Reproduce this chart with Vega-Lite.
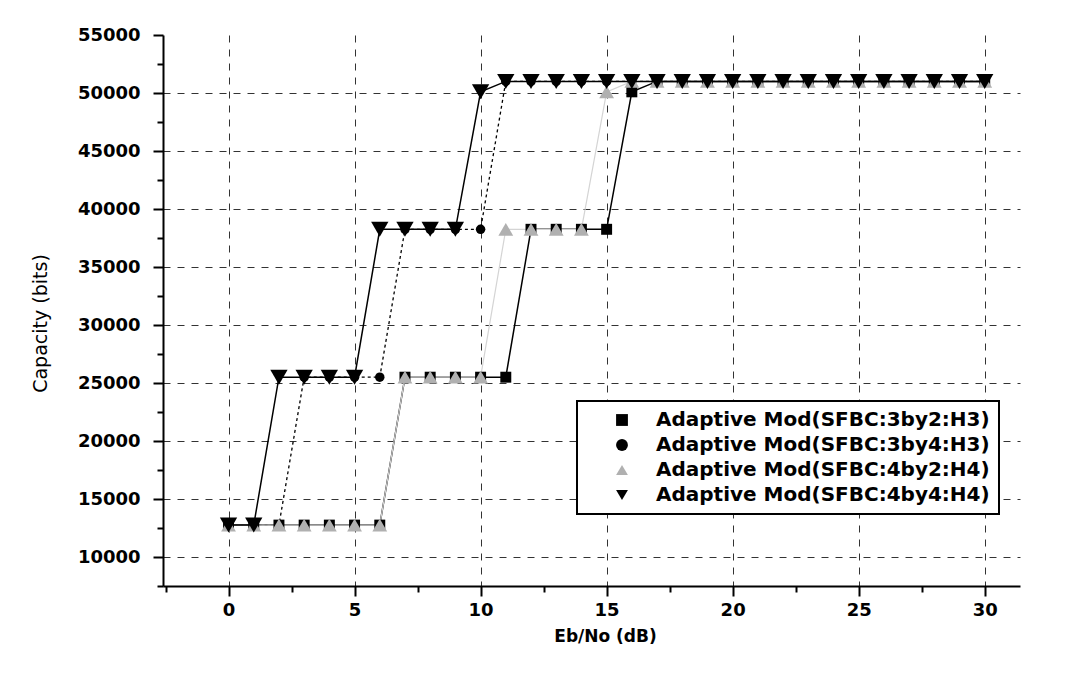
{
  "$schema": "https://vega.github.io/schema/vega-lite/v6.json",
  "width": 857,
  "height": 551,
  "autosize": {"type": "none"},
  "padding": {"left": 163, "top": 35, "right": 53, "bottom": 91},
  "background": "white",
  "config": {
    "view": {"stroke": null},
    "font": "DejaVu Sans",
    "axis": {
      "domainColor": "black",
      "domainWidth": 2,
      "tickColor": "black",
      "tickWidth": 2,
      "labelColor": "black",
      "labelFont": "DejaVu Sans",
      "labelFontSize": 18,
      "labelFontWeight": "bold",
      "titleColor": "black",
      "titleFont": "DejaVu Sans",
      "titleFontSize": 19,
      "titleFontWeight": "normal",
      "gridColor": "#333",
      "gridWidth": 1,
      "gridDash": [7, 7]
    },
    "legend": {
      "orient": "none",
      "legendX": 414,
      "legendY": 366,
      "labelFont": "DejaVu Sans",
      "labelFontSize": 20,
      "labelFontWeight": "bold",
      "labelColor": "black",
      "labelLimit": 500,
      "labelOffset": 24,
      "symbolOffset": 26,
      "symbolSize": 140,
      "symbolStrokeWidth": 0,
      "rowPadding": 5,
      "padding": 9,
      "strokeColor": "black",
      "strokeWidth": 2,
      "fillColor": "white"
    }
  },
  "data": {
    "values": [
      {"s": "3by2:H3", "x": 0, "y": 12750}, {"s": "3by2:H3", "x": 1, "y": 12750}, {"s": "3by2:H3", "x": 2, "y": 12750}, {"s": "3by2:H3", "x": 3, "y": 12750}, {"s": "3by2:H3", "x": 4, "y": 12750}, {"s": "3by2:H3", "x": 5, "y": 12750}, {"s": "3by2:H3", "x": 6, "y": 12750}, {"s": "3by2:H3", "x": 7, "y": 25500}, {"s": "3by2:H3", "x": 8, "y": 25500}, {"s": "3by2:H3", "x": 9, "y": 25500}, {"s": "3by2:H3", "x": 10, "y": 25500}, {"s": "3by2:H3", "x": 11, "y": 25500}, {"s": "3by2:H3", "x": 12, "y": 38250}, {"s": "3by2:H3", "x": 13, "y": 38250}, {"s": "3by2:H3", "x": 14, "y": 38250}, {"s": "3by2:H3", "x": 15, "y": 38250}, {"s": "3by2:H3", "x": 16, "y": 50100}, {"s": "3by2:H3", "x": 17, "y": 51000}, {"s": "3by2:H3", "x": 18, "y": 51000}, {"s": "3by2:H3", "x": 19, "y": 51000}, {"s": "3by2:H3", "x": 20, "y": 51000}, {"s": "3by2:H3", "x": 21, "y": 51000}, {"s": "3by2:H3", "x": 22, "y": 51000}, {"s": "3by2:H3", "x": 23, "y": 51000}, {"s": "3by2:H3", "x": 24, "y": 51000}, {"s": "3by2:H3", "x": 25, "y": 51000}, {"s": "3by2:H3", "x": 26, "y": 51000}, {"s": "3by2:H3", "x": 27, "y": 51000}, {"s": "3by2:H3", "x": 28, "y": 51000}, {"s": "3by2:H3", "x": 29, "y": 51000}, {"s": "3by2:H3", "x": 30, "y": 51000},
      {"s": "3by4:H3", "x": 0, "y": 12750}, {"s": "3by4:H3", "x": 1, "y": 12750}, {"s": "3by4:H3", "x": 2, "y": 12750}, {"s": "3by4:H3", "x": 3, "y": 25500}, {"s": "3by4:H3", "x": 4, "y": 25500}, {"s": "3by4:H3", "x": 5, "y": 25500}, {"s": "3by4:H3", "x": 6, "y": 25500}, {"s": "3by4:H3", "x": 7, "y": 38250}, {"s": "3by4:H3", "x": 8, "y": 38250}, {"s": "3by4:H3", "x": 9, "y": 38250}, {"s": "3by4:H3", "x": 10, "y": 38250}, {"s": "3by4:H3", "x": 11, "y": 51000}, {"s": "3by4:H3", "x": 12, "y": 51000}, {"s": "3by4:H3", "x": 13, "y": 51000}, {"s": "3by4:H3", "x": 14, "y": 51000}, {"s": "3by4:H3", "x": 15, "y": 51000}, {"s": "3by4:H3", "x": 16, "y": 51000}, {"s": "3by4:H3", "x": 17, "y": 51000}, {"s": "3by4:H3", "x": 18, "y": 51000}, {"s": "3by4:H3", "x": 19, "y": 51000}, {"s": "3by4:H3", "x": 20, "y": 51000}, {"s": "3by4:H3", "x": 21, "y": 51000}, {"s": "3by4:H3", "x": 22, "y": 51000}, {"s": "3by4:H3", "x": 23, "y": 51000}, {"s": "3by4:H3", "x": 24, "y": 51000}, {"s": "3by4:H3", "x": 25, "y": 51000}, {"s": "3by4:H3", "x": 26, "y": 51000}, {"s": "3by4:H3", "x": 27, "y": 51000}, {"s": "3by4:H3", "x": 28, "y": 51000}, {"s": "3by4:H3", "x": 29, "y": 51000}, {"s": "3by4:H3", "x": 30, "y": 51000},
      {"s": "4by2:H4", "x": 0, "y": 12750}, {"s": "4by2:H4", "x": 1, "y": 12750}, {"s": "4by2:H4", "x": 2, "y": 12750}, {"s": "4by2:H4", "x": 3, "y": 12750}, {"s": "4by2:H4", "x": 4, "y": 12750}, {"s": "4by2:H4", "x": 5, "y": 12750}, {"s": "4by2:H4", "x": 6, "y": 12750}, {"s": "4by2:H4", "x": 7, "y": 25500}, {"s": "4by2:H4", "x": 8, "y": 25500}, {"s": "4by2:H4", "x": 9, "y": 25500}, {"s": "4by2:H4", "x": 10, "y": 25500}, {"s": "4by2:H4", "x": 11, "y": 38250}, {"s": "4by2:H4", "x": 12, "y": 38250}, {"s": "4by2:H4", "x": 13, "y": 38250}, {"s": "4by2:H4", "x": 14, "y": 38250}, {"s": "4by2:H4", "x": 15, "y": 50100}, {"s": "4by2:H4", "x": 16, "y": 51000}, {"s": "4by2:H4", "x": 17, "y": 51000}, {"s": "4by2:H4", "x": 18, "y": 51000}, {"s": "4by2:H4", "x": 19, "y": 51000}, {"s": "4by2:H4", "x": 20, "y": 51000}, {"s": "4by2:H4", "x": 21, "y": 51000}, {"s": "4by2:H4", "x": 22, "y": 51000}, {"s": "4by2:H4", "x": 23, "y": 51000}, {"s": "4by2:H4", "x": 24, "y": 51000}, {"s": "4by2:H4", "x": 25, "y": 51000}, {"s": "4by2:H4", "x": 26, "y": 51000}, {"s": "4by2:H4", "x": 27, "y": 51000}, {"s": "4by2:H4", "x": 28, "y": 51000}, {"s": "4by2:H4", "x": 29, "y": 51000}, {"s": "4by2:H4", "x": 30, "y": 51000},
      {"s": "4by4:H4", "x": 0, "y": 12750}, {"s": "4by4:H4", "x": 1, "y": 12750}, {"s": "4by4:H4", "x": 2, "y": 25500}, {"s": "4by4:H4", "x": 3, "y": 25500}, {"s": "4by4:H4", "x": 4, "y": 25500}, {"s": "4by4:H4", "x": 5, "y": 25500}, {"s": "4by4:H4", "x": 6, "y": 38250}, {"s": "4by4:H4", "x": 7, "y": 38250}, {"s": "4by4:H4", "x": 8, "y": 38250}, {"s": "4by4:H4", "x": 9, "y": 38250}, {"s": "4by4:H4", "x": 10, "y": 50100}, {"s": "4by4:H4", "x": 11, "y": 51000}, {"s": "4by4:H4", "x": 12, "y": 51000}, {"s": "4by4:H4", "x": 13, "y": 51000}, {"s": "4by4:H4", "x": 14, "y": 51000}, {"s": "4by4:H4", "x": 15, "y": 51000}, {"s": "4by4:H4", "x": 16, "y": 51000}, {"s": "4by4:H4", "x": 17, "y": 51000}, {"s": "4by4:H4", "x": 18, "y": 51000}, {"s": "4by4:H4", "x": 19, "y": 51000}, {"s": "4by4:H4", "x": 20, "y": 51000}, {"s": "4by4:H4", "x": 21, "y": 51000}, {"s": "4by4:H4", "x": 22, "y": 51000}, {"s": "4by4:H4", "x": 23, "y": 51000}, {"s": "4by4:H4", "x": 24, "y": 51000}, {"s": "4by4:H4", "x": 25, "y": 51000}, {"s": "4by4:H4", "x": 26, "y": 51000}, {"s": "4by4:H4", "x": 27, "y": 51000}, {"s": "4by4:H4", "x": 28, "y": 51000}, {"s": "4by4:H4", "x": 29, "y": 51000}, {"s": "4by4:H4", "x": 30, "y": 51000}
    ]
  },
  "encoding": {
    "x": {
      "field": "x",
      "type": "quantitative",
      "scale": {"domain": [-2.6, 31.4], "nice": false, "zero": false},
      "axis": {
        "title": "Eb/No (dB)",
        "titleX": 442,
        "titleY": 50,
        "titleBaseline": "middle",
        "titleFontWeight": "bold",
        "titleFontSize": 17,
        "values": [-2.5, 0, 2.5, 5, 7.5, 10, 12.5, 15, 17.5, 20, 22.5, 25, 27.5, 30],
        "labelExpr": "datum.value % 5 == 0 ? datum.label : ''",
        "labelPadding": 14,
        "labelBaseline": "middle",
        "tickSize": {"condition": {"test": "datum.value % 5 == 0", "value": 10}, "value": 6},
        "gridOpacity": {"condition": {"test": "datum.value % 5 == 0 && datum.value >= 0", "value": 1}, "value": 0},
        "grid": true
      }
    },
    "y": {
      "field": "y",
      "type": "quantitative",
      "scale": {"domain": [7500, 55000], "nice": false, "zero": false},
      "axis": {
        "title": "Capacity (bits)",
        "titleX": -123,
        "titleY": 288,
        "titleBaseline": "middle",
        "titleAlign": "center",
        "values": [7500, 10000, 12500, 15000, 17500, 20000, 22500, 25000, 27500, 30000, 32500, 35000, 37500, 40000, 42500, 45000, 47500, 50000, 52500, 55000],
        "labelExpr": "datum.value % 5000 == 0 ? datum.value : ''",
        "labelPadding": 13,
        "tickSize": {"condition": {"test": "datum.value % 5000 == 0", "value": 10}, "value": 6},
        "gridOpacity": {"condition": {"test": "datum.value % 5000 == 0 && datum.value < 55000", "value": 1}, "value": 0},
        "grid": true
      }
    }
  },
  "layer": [
    {
      "transform": [{"filter": "datum.s == '3by2:H3'"}],
      "mark": {"type": "line", "strokeWidth": 1.5, "color": "#000000"},
      "encoding": {}
    },
    {
      "transform": [{"filter": "datum.s == '3by4:H3'"}],
      "mark": {"type": "line", "strokeWidth": 1.3, "color": "#000000", "strokeDash": [3, 3]},
      "encoding": {}
    },
    {
      "transform": [{"filter": "datum.s == '4by2:H4'"}],
      "mark": {"type": "line", "strokeWidth": 1.2, "color": "#d4d4d4"},
      "encoding": {}
    },
    {
      "transform": [{"filter": "datum.s == '4by4:H4'"}],
      "mark": {"type": "line", "strokeWidth": 1.5, "color": "#000000"},
      "encoding": {}
    },
    {
      "transform": [{"filter": "datum.s == '3by2:H3'"}],
      "mark": {"type": "point", "filled": true, "opacity": 1, "strokeWidth": 0, "size": 120},
      "encoding": {
        "fill": {
          "field": "s",
          "type": "nominal",
          "scale": {"domain": ["3by2:H3", "3by4:H3", "4by2:H4", "4by4:H4"], "range": ["#000000", "#000000", "#b0b0b0", "#000000"]},
          "legend": {"title": null, "labelExpr": "'Adaptive Mod(SFBC:' + datum.label + ')'"}
        },
        "shape": {
          "field": "s",
          "type": "nominal",
          "scale": {"domain": ["3by2:H3", "3by4:H3", "4by2:H4", "4by4:H4"], "range": ["square", "circle", "triangle-up", "triangle-down"]},
          "legend": {"title": null, "labelExpr": "'Adaptive Mod(SFBC:' + datum.label + ')'"}
        }
      }
    },
    {
      "transform": [{"filter": "datum.s == '3by4:H3'"}],
      "mark": {"type": "point", "filled": true, "opacity": 1, "strokeWidth": 0, "size": 90},
      "encoding": {
        "fill": {"field": "s", "type": "nominal", "legend": {"title": null, "labelExpr": "'Adaptive Mod(SFBC:' + datum.label + ')'"}},
        "shape": {"field": "s", "type": "nominal", "legend": {"title": null, "labelExpr": "'Adaptive Mod(SFBC:' + datum.label + ')'"}}
      }
    },
    {
      "transform": [{"filter": "datum.s == '4by2:H4'"}],
      "mark": {"type": "point", "filled": true, "opacity": 1, "strokeWidth": 0, "size": 220},
      "encoding": {
        "fill": {"field": "s", "type": "nominal", "legend": {"title": null, "labelExpr": "'Adaptive Mod(SFBC:' + datum.label + ')'"}},
        "shape": {"field": "s", "type": "nominal", "legend": {"title": null, "labelExpr": "'Adaptive Mod(SFBC:' + datum.label + ')'"}}
      }
    },
    {
      "transform": [{"filter": "datum.s == '4by4:H4'"}],
      "mark": {"type": "point", "filled": true, "opacity": 1, "strokeWidth": 0, "size": 300},
      "encoding": {
        "fill": {"field": "s", "type": "nominal", "legend": {"title": null, "labelExpr": "'Adaptive Mod(SFBC:' + datum.label + ')'"}},
        "shape": {"field": "s", "type": "nominal", "legend": {"title": null, "labelExpr": "'Adaptive Mod(SFBC:' + datum.label + ')'"}}
      }
    }
  ]
}
